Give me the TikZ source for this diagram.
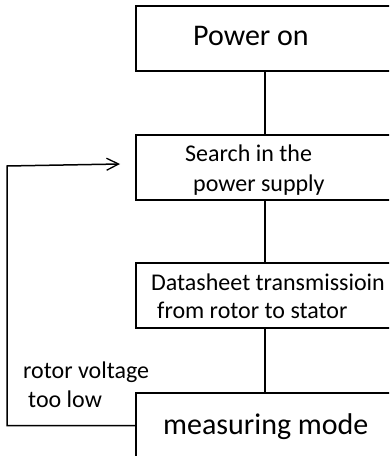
\documentclass[tikz,border=0pt]{standalone}
\usepackage{fontspec}
\setmainfont{Carlito}
\usetikzlibrary{arrows.meta}
\begin{document}
\begin{tikzpicture}[x=1bp,y=-1bp,
  box/.style={draw=black,line width=1.5bp,minimum width=258bp,minimum height=65bp,inner sep=0pt},
  big/.style={font=\fontsize{30bp}{36bp}\selectfont,anchor=base west,inner sep=0pt,text=black},
  small/.style={font=\fontsize{24bp}{29bp}\selectfont,anchor=base west,inner sep=0pt,text=black},
  link/.style={draw=black,line width=1.5bp}]
\useasboundingbox (0,0) rectangle (389,456);
\clip (0,0) rectangle (389,456);
\node[box] (b1) at (265,38.5) {};
\node[box] (b2) at (265,167.5) {};
\node[box] (b3) at (265,295.5) {};
\node[box] (b4) at (265,425.5) {};
\node[big] (t1) at (193,46) {Power on};
\node[small] (t2a) at (185,162) {Search in the};
\node[small] (t2b) at (193,192) {power supply};
\node[small] (t3a) at (151,290) {Datasheet transmissioin};
\node[small] (t3b) at (157,318) {from rotor to stator};
\node[big] (t4) at (163,434) {measuring mode};
\node[small] (l1) at (23,378) {rotor voltage};
\node[small] (l2) at (28,407) {too low};
\coordinate (c1) at (7,425.5);
\coordinate (c2) at (7,166);
\coordinate (c3) at (120,164);
\draw[link] (b1.south) -- (b2.north);
\draw[link] (b2.south) -- (b3.north);
\draw[link] (b3.south) -- (b4.north);
\draw[link,-{Straight Barb[length=12bp,width=12bp,line width=1.3bp]}] (b4.west) -- (c1) -- (c2) -- (c3);
\end{tikzpicture}
\end{document}
